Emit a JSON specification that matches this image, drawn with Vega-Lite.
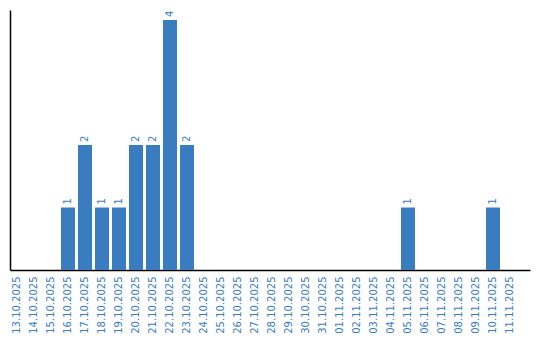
{
  "$schema": "https://vega.github.io/schema/vega-lite/v6.json",
  "width": 520,
  "height": 260,
  "autosize": {"type": "none"},
  "padding": {"left": 10, "top": 10, "right": 10, "bottom": 70},
  "background": "white",
  "config": {"view": {"stroke": null}, "font": "DejaVu Sans"},
  "data": {"values": [
    {"date": "13.10.2025", "count": 0},
    {"date": "14.10.2025", "count": 0},
    {"date": "15.10.2025", "count": 0},
    {"date": "16.10.2025", "count": 1},
    {"date": "17.10.2025", "count": 2},
    {"date": "18.10.2025", "count": 1},
    {"date": "19.10.2025", "count": 1},
    {"date": "20.10.2025", "count": 2},
    {"date": "21.10.2025", "count": 2},
    {"date": "22.10.2025", "count": 4},
    {"date": "23.10.2025", "count": 2},
    {"date": "24.10.2025", "count": 0},
    {"date": "25.10.2025", "count": 0},
    {"date": "26.10.2025", "count": 0},
    {"date": "27.10.2025", "count": 0},
    {"date": "28.10.2025", "count": 0},
    {"date": "29.10.2025", "count": 0},
    {"date": "30.10.2025", "count": 0},
    {"date": "31.10.2025", "count": 0},
    {"date": "01.11.2025", "count": 0},
    {"date": "02.11.2025", "count": 0},
    {"date": "03.11.2025", "count": 0},
    {"date": "04.11.2025", "count": 0},
    {"date": "05.11.2025", "count": 1},
    {"date": "06.11.2025", "count": 0},
    {"date": "07.11.2025", "count": 0},
    {"date": "08.11.2025", "count": 0},
    {"date": "09.11.2025", "count": 0},
    {"date": "10.11.2025", "count": 1},
    {"date": "11.11.2025", "count": 0}
  ]},
  "encoding": {
    "x": {
      "field": "date", "type": "ordinal", "sort": null,
      "scale": {"paddingInner": 0.176, "paddingOuter": 0.382, "align": 0},
      "axis": {
        "title": null, "labelAngle": -90, "ticks": false, "labelPadding": 6,
        "labelColor": "#3a7cc0", "labelFontSize": 10, "labelFont": "DejaVu Sans",
        "domainColor": "#000000", "domainWidth": 1.5, "grid": false
      }
    },
    "y": {
      "field": "count", "type": "quantitative",
      "scale": {"domain": [0, 4.16], "nice": false},
      "axis": {
        "title": null, "labels": false, "ticks": false, "grid": false,
        "domainColor": "#000000", "domainWidth": 1.5
      }
    }
  },
  "layer": [
    {"mark": {"type": "bar", "color": "#3a7cc0"}},
    {
      "transform": [{"filter": "datum.count > 0"}],
      "mark": {"type": "text", "angle": 270, "align": "left", "baseline": "middle", "dx": 3, "color": "#3a7cc0", "fontSize": 10, "font": "DejaVu Sans"},
      "encoding": {"text": {"field": "count", "type": "quantitative"}}
    }
  ]
}
